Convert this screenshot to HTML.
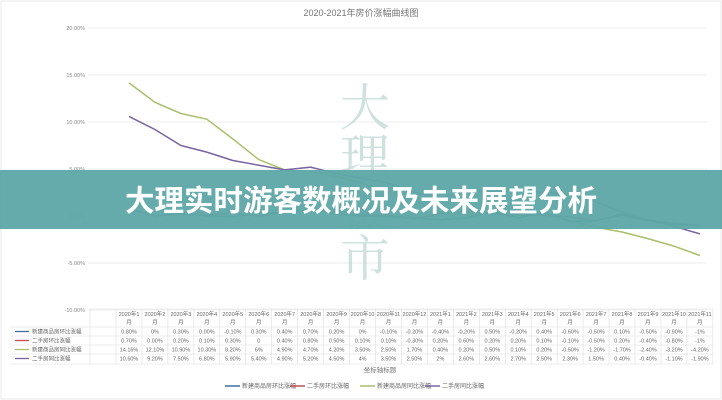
<!DOCTYPE html>
<html><head><meta charset="utf-8"><style>
html,body{margin:0;padding:0;background:#fff;}
svg{display:block;font-family:"Liberation Sans","Noto Sans CJK SC",sans-serif;}
</style></head><body>
<svg width="722" height="400" viewBox="0 0 722 400" xmlns="http://www.w3.org/2000/svg">
<rect width="722" height="400" fill="#fff"/>
<rect x="1" y="1" width="720" height="398" fill="none" stroke="#e8e8e8"/>
<text x="361" y="16" font-size="9" fill="#777" text-anchor="middle">2020-2021年房价涨幅曲线图</text>
<g stroke="#ececec" stroke-width="1">
<line x1="88" y1="28" x2="707" y2="28"/><line x1="88" y1="75" x2="707" y2="75"/>
<line x1="88" y1="122" x2="707" y2="122"/><line x1="88" y1="169" x2="707" y2="169"/>
<line x1="88" y1="216" x2="707" y2="216"/><line x1="88" y1="263" x2="707" y2="263"/>
<line x1="88" y1="310" x2="707" y2="310"/>
</g>
<g font-size="5.5" fill="#888" text-anchor="end">
<text x="85" y="30">20.00%</text><text x="85" y="77">15.00%</text><text x="85" y="124">10.00%</text>
<text x="85" y="171">5.00%</text><text x="85" y="218">0.00%</text><text x="85" y="265">-5.00%</text><text x="85" y="312">-10.00%</text>
</g>
<g font-size="50" fill="#c3dad6" text-anchor="middle" font-family="'Noto Serif CJK SC','Noto Sans CJK SC',serif" opacity="0.8">
<text x="365" y="125">大</text><text x="365" y="175">理</text><text x="365" y="225">楼</text><text x="365" y="276">市</text>
</g>
<g fill="none" stroke-width="1.5" stroke-linejoin="round" id="series"></g>
<g id="tbl" font-size="5.5" fill="#666" text-anchor="middle"></g>
<text x="380" y="372" font-size="6.5" fill="#777" text-anchor="middle">坐标轴标题</text>
<g font-size="6" fill="#666">
<line x1="225" y1="386" x2="240" y2="386" stroke="#3d6f9e" stroke-width="1.5"/><text x="242" y="388">新建商品房环比涨幅</text>
<line x1="290" y1="386" x2="305" y2="386" stroke="#c0504d" stroke-width="1.5"/><text x="307" y="388">二手房环比涨幅</text>
<line x1="360" y1="386" x2="375" y2="386" stroke="#a9c06a" stroke-width="1.5"/><text x="377" y="388">新建商品房同比涨幅</text>
<line x1="425" y1="386" x2="440" y2="386" stroke="#7a64a0" stroke-width="1.5"/><text x="442" y="388">二手房同比涨幅</text>
</g>
<rect x="0" y="170" width="722" height="59" fill="#5fa8a8" opacity="0.96"/>
<text x="361" y="211" font-size="29.5" font-weight="bold" fill="#fff" text-anchor="middle" font-family="'Noto Sans CJK SC',sans-serif">大理实时游客数概况及未来展望分析</text>
<script>
var d={
b:[0.8,0,0.3,0,-0.1,0.3,0.4,0.7,0.2,0,-0.1,-0.2,-0.4,-0.2,0.5,-0.2,0.4,-0.6,-0.5,0.1,-0.5,-0.9,-1],
r:[0.7,0,0.2,0.1,0.3,0,0.4,0.8,0.5,0.1,0.1,-0.3,0.2,0.6,0.2,0.2,0.1,-0.1,-0.5,0.2,-0.4,-0.8,-1],
g:[14.16,12.1,10.9,10.3,8.2,6,4.9,4.7,4.2,3.5,2.5,1.7,0.4,0.2,0.5,0.1,0.2,-0.5,-1.2,-1.7,-2.4,-3.2,-4.2],
p:[10.6,9.2,7.5,6.8,5.9,5.4,4.9,5.2,4.5,4,3.5,2.5,2,2.6,2.6,2.7,2.5,2.3,1.5,0.4,-0.4,-1.1,-1.9]};
var col={b:"#3d6f9e",r:"#c0504d",g:"#a9c06a",p:"#7a64a0"};
var NS="http://www.w3.org/2000/svg",S=document.getElementById("series");
var X=function(i){return 129+i*25.95},Y=function(v){return 216-v*9.4};
["g","p","r","b"].forEach(function(k){var pts=d[k].map(function(v,i){return X(i).toFixed(1)+","+Y(v).toFixed(1)}).join(" ");
var e=document.createElementNS(NS,"polyline");e.setAttribute("points",pts);e.setAttribute("stroke",col[k]);S.appendChild(e);});
var T=document.getElementById("tbl");
function ln(x1,y1,x2,y2){var e=document.createElementNS(NS,"line");e.setAttribute("x1",x1);e.setAttribute("y1",y1);e.setAttribute("x2",x2);e.setAttribute("y2",y2);e.setAttribute("stroke","#ddd");e.setAttribute("stroke-width","0.6");T.appendChild(e);}
function tx(x,y,s,a){var e=document.createElementNS(NS,"text");e.setAttribute("x",x);e.setAttribute("y",y);if(a)e.setAttribute("text-anchor",a);e.textContent=s;T.appendChild(e);}
var x0=116,w=25.95,yt=309,rows=[327,336,345,354,364];
ln(90,yt,x0+23*w,yt);rows.forEach(function(y){ln(10,y,x0+23*w,y)});
ln(90,yt,90,364);for(var i=0;i<=23;i++)ln(x0+i*w,yt,x0+i*w,364);
var labs=[];for(var i=1;i<=12;i++)labs.push(["2020年"+i,"月"]);for(var i=1;i<=11;i++)labs.push(["2021年"+i,"月"]);
labs.forEach(function(l,i){tx(X(i),316,l[0]);tx(X(i),324,l[1]);});
var tb=[["0.80%","0%","0.30%","0.00%","-0.10%","0.30%","0.40%","0.70%","0.20%","0%","-0.10%","-0.20%","-0.40%","-0.20%","0.50%","-0.20%","0.40%","-0.60%","-0.50%","0.10%","-0.50%","-0.90%","-1%"],
["0.70%","0.00%","0.20%","0.10%","0.30%","0","0.40%","0.80%","0.50%","0.10%","0.10%","-0.30%","0.20%","0.60%","0.20%","0.20%","0.10%","-0.10%","-0.50%","0.20%","-0.40%","-0.80%","-1%"],
["14.16%","12.10%","10.90%","10.30%","8.20%","6%","4.90%","4.70%","4.20%","3.50%","2.50%","1.70%","0.40%","0.20%","0.50%","0.10%","0.20%","-0.50%","-1.20%","-1.70%","-2.40%","-3.20%","-4.20%"],
["10.60%","9.20%","7.50%","6.80%","5.90%","5.40%","4.90%","5.20%","4.50%","4%","3.50%","2.50%","2%","2.60%","2.60%","2.70%","2.50%","2.30%","1.50%","0.40%","-0.40%","-1.10%","-1.90%"]];
var names=["新建商品房环比涨幅","二手房环比涨幅","新建商品房同比涨幅","二手房同比涨幅"],kk=["b","r","g","p"];
tb.forEach(function(r,j){var y=rows[j]+6.5;r.forEach(function(s,i){tx(X(i),y,s)});
ln(15,y-2,29,y-2);T.lastChild.setAttribute("stroke",col[kk[j]]);T.lastChild.setAttribute("stroke-width","1.3");
tx(32,y,names[j],"start");});
</script>
</svg>
</body></html>
